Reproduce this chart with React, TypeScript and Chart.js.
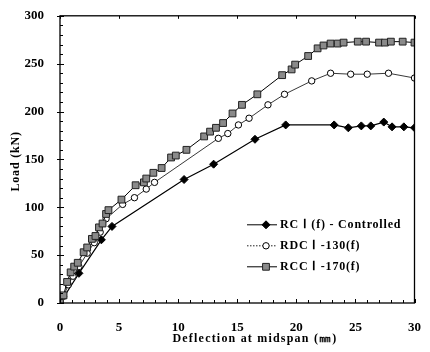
import React, { useEffect, useRef } from 'react';
import { Chart, registerables } from 'chart.js';
import { drawPoint } from 'chart.js/helpers';
Chart.register(...registerables);

const xTickValues = [0, 5, 10, 15, 20, 25, 30];
const yTickValues = [0, 50, 100, 150, 200, 250, 300];

const rcLabel = 'RC Ⅰ (f) - Controlled';
const rdcLabel = 'RDC Ⅰ -130(f)';
const rccLabel = 'RCC Ⅰ -170(f)';

const rcDef = [0, 1.6, 3.5, 4.4, 10.5, 13.0, 16.5, 19.1, 23.2, 24.4, 25.5, 26.3, 27.4, 28.1, 29.1, 30];
const rcLoad = [0, 31, 66, 80, 129, 145, 171, 186, 186, 183, 185, 185, 189, 184, 184, 183];

const rdcDef = [0, 0.3, 0.7, 1.1, 1.6, 2.3, 2.9, 3.4, 3.9, 5.3, 6.3, 7.3, 8.0, 13.4, 14.2, 15.1, 16.0, 17.6, 19.0, 21.3, 22.9, 24.6, 26.0, 27.8, 30.0];
const rdcLoad = [0, 7, 19, 28, 38, 52, 63, 74, 88, 103, 110, 119, 126, 172, 177, 186, 193, 207, 218, 232, 240, 239, 239, 240, 235];

const rccDef = [0, 0.3, 0.6, 0.9, 1.2, 1.5, 2.0, 2.3, 2.7, 3.0, 3.3, 3.6, 3.9, 4.1, 5.2, 6.4, 7.1, 7.3, 7.9, 8.6, 9.4, 9.8, 10.7, 12.2, 12.7, 13.2, 13.8, 14.6, 15.4, 16.7, 18.8, 19.6, 19.9, 21.0, 21.8, 22.3, 22.9, 23.5, 24.0, 25.2, 25.9, 27.0, 27.5, 28.0, 29.0, 30.0];
const rccLoad = [0, 8, 22, 32, 38, 42, 53, 58, 67, 70, 79, 83, 93, 97, 108, 123, 126, 130, 136, 141, 152, 154, 160, 174, 179, 183, 188, 198, 207, 218, 238, 244, 249, 258, 266, 269, 271, 271, 272, 273, 273, 272, 272, 273, 273, 272];

const xTitle = 'Deflection at midspan (㎜)';
const yTitle = 'Load (kN)';

const FONT = '"Liberation Serif", "Times New Roman", serif';

const toPts = (xs: number[], ys: number[]) => xs.map((x, i) => ({ x, y: ys[i] }));

const legendDashes: number[][] = [[], [1.5, 1.5], []];

const framePlugin = {
  id: 'frame',
  afterDraw(chart: any) {
    const { ctx, chartArea: a, scales } = chart;
    const xs = scales.x;
    const ys = scales.y;
    ctx.save();
    ctx.strokeStyle = '#000';
    ctx.lineWidth = 1.3;
    ctx.strokeRect(a.left, a.top, a.right - a.left, a.bottom - a.top);
    ctx.lineWidth = 1;
    ctx.beginPath();
    for (let v = 0; v <= 30; v += 1) {
      const px = Math.round(xs.getPixelForValue(v)) + 0.5;
      const len = v % 5 === 0 ? 4 : 3;
      ctx.moveTo(px, a.bottom);
      ctx.lineTo(px, a.bottom - len);
      ctx.moveTo(px, a.top);
      ctx.lineTo(px, a.top + (v % 5 === 0 ? 3 : 0));
    }
    for (let v = 0; v <= 300; v += 10) {
      const py = Math.round(ys.getPixelForValue(v)) + 0.5;
      const len = v % 50 === 0 ? 4 : 3;
      ctx.moveTo(a.left - (v % 50 === 0 ? 3 : 0), py);
      ctx.lineTo(a.left + len, py);
    }
    ctx.stroke();

    // axis titles
    ctx.fillStyle = '#000';
    ctx.font = 'bold 12px ' + FONT;
    (ctx as any).letterSpacing = '1.2px';
    ctx.textAlign = 'center';
    ctx.textBaseline = 'middle';
    ctx.fillText(xTitle, a.left + (a.right - a.left) * 0.55, a.bottom + 36);
    (ctx as any).letterSpacing = '0.8px';
    ctx.save();
    ctx.translate(16, (a.top + a.bottom) / 2 + 2);
    ctx.rotate(-Math.PI / 2);
    ctx.fillText(yTitle, 0, 0);
    ctx.restore();

    // legend
    const ds = chart.data.datasets;
    const lx0 = a.left + 187;
    const lx1 = a.left + 217;
    const tx = a.left + 220;
    [0, 1, 2].forEach((di, k) => {
      const d = ds[di];
      const yy = a.top + 209 + k * 21;
      ctx.save();
      ctx.strokeStyle = d.borderColor;
      ctx.lineWidth = 1;
      ctx.setLineDash(legendDashes[di]);
      ctx.beginPath();
      ctx.moveTo(lx0, yy);
      ctx.lineTo(lx1, yy);
      ctx.stroke();
      ctx.setLineDash([]);
      ctx.fillStyle = d.pointBackgroundColor;
      ctx.strokeStyle = d.pointBorderColor;
      ctx.lineWidth = d.pointBorderWidth;
      drawPoint(ctx, { pointStyle: d.pointStyle, rotation: 0, radius: d.pointRadius, borderWidth: d.pointBorderWidth }, lx0 + 19, yy);
      ctx.restore();
      ctx.fillStyle = '#000';
      ctx.font = 'bold 12px ' + FONT;
      (ctx as any).letterSpacing = '0.8px';
      ctx.textAlign = 'left';
      ctx.textBaseline = 'middle';
      ctx.fillText(d.label, tx, yy);
    });
    ctx.restore();
  },
};

export default function App() {
  const ref = useRef<HTMLCanvasElement>(null);
  useEffect(() => {
    document.body.style.margin = '0';
    const chart = new Chart(ref.current!, {
      type: 'scatter',
      data: {
        datasets: [
          {
            label: rcLabel,
            data: toPts(rcDef, rcLoad),
            showLine: true,
            borderColor: '#000',
            borderWidth: 1.2,
            pointStyle: 'rectRot',
            pointRadius: 4,
            pointBackgroundColor: '#000',
            pointBorderColor: '#000',
            pointBorderWidth: 1,
            order: 2,
          },
          {
            label: rdcLabel,
            data: toPts(rdcDef, rdcLoad),
            showLine: true,
            borderColor: '#222',
            borderWidth: 0.9,
            pointStyle: 'circle',
            pointRadius: 3.2,
            pointBackgroundColor: '#fff',
            pointBorderColor: '#000',
            pointBorderWidth: 1,
            order: 1,
          },
          {
            label: rccLabel,
            data: toPts(rccDef, rccLoad),
            showLine: true,
            borderColor: '#000',
            borderWidth: 1,
            pointStyle: 'rect',
            pointRadius: 4.8,
            pointBackgroundColor: '#8a8a8a',
            pointBorderColor: '#222',
            pointBorderWidth: 1,
            order: 0,
          },
        ],
      },
      options: {
        animation: false,
        responsive: false,
        layout: { padding: { left: 0, top: 14, right: 10, bottom: 0 } },
        plugins: { legend: { display: false }, tooltip: { enabled: false } },
        scales: {
          x: {
            type: 'linear',
            min: 0,
            max: 30,
            afterFit: (s: any) => { s.height = 49; },
            afterBuildTicks: (s: any) => { s.ticks = xTickValues.map((v) => ({ value: v })); },
            grid: { display: false },
            border: { display: false },
            ticks: { padding: 9, color: '#000', font: { family: FONT, size: 13, weight: 'bold' } },
          },
          y: {
            type: 'linear',
            min: 0,
            max: 300,
            afterFit: (s: any) => { s.width = 60; },
            afterBuildTicks: (s: any) => { s.ticks = yTickValues.map((v) => ({ value: v })); },
            grid: { display: false },
            border: { display: false },
            ticks: { padding: 8, color: '#000', font: { family: FONT, size: 13, weight: 'bold' } },
          },
        },
      },
      plugins: [framePlugin],
    } as any);
    return () => chart.destroy();
  }, []);
  return (
    <div style={{ width: 430, height: 352 }}>
      <canvas ref={ref} width={430} height={352} style={{ display: 'block' }} />
    </div>
  );
}
